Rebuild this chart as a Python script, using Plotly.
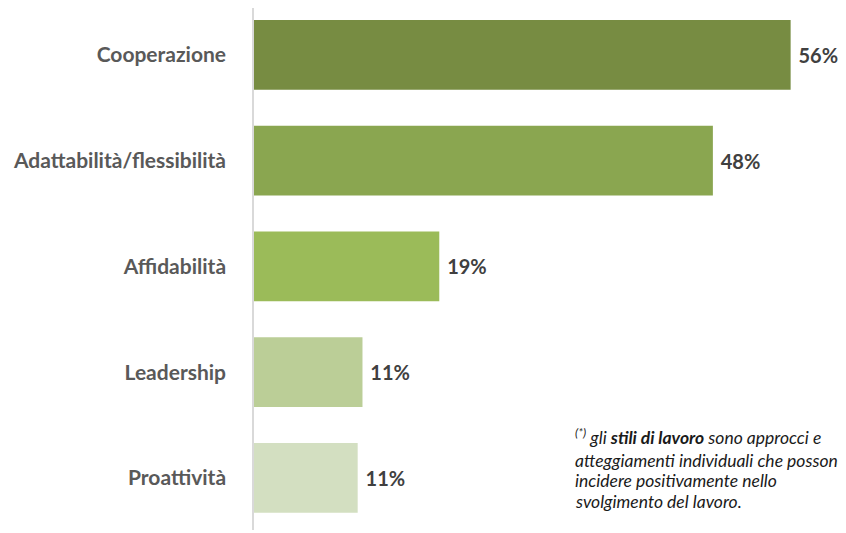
import plotly.graph_objects as go

# --- Data ---
categories = ["Cooperazione", "Adattabilità/flessibilità", "Affidabilità", "Leadership", "Proattività"]
values = [55.9, 47.8, 19.3, 11.3, 10.8]
bar_colors = ["#778C42", "#8AA650", "#9BBB59", "#BBCE97", "#D3DFC1"]
footnote_lines = [
    "<sup>(*)</sup> gli <b>stili di lavoro</b> sono approcci e",
    "atteggiamenti individuali che possono",
    "incidere positivamente nello",
    "svolgimento del lavoro.",
]

FONT = "Lato, 'Open Sans', sans-serif"
# page body adds an 8px offset, so figure coords = screen coords - 8
PLOT_H = 522
PLOT_W = 600

fig = go.Figure()
fig.add_trace(go.Bar(
    y=categories, x=values, orientation="h",
    marker=dict(color=bar_colors, line=dict(width=0)),
    text=values, texttemplate=" %{x:.0f}%", textposition="outside",
    textfont=dict(family=FONT, size=20, color="#404040", weight="bold"),
    cliponaxis=False, hoverinfo="skip",
))

fig.update_layout(
    width=846, height=533,
    margin=dict(l=246, r=0, t=0, b=533 - PLOT_H, autoexpand=False),
    paper_bgcolor="white", plot_bgcolor="white",
    showlegend=False, bargap=0.34,
    font=dict(family=FONT),
)
fig.update_yaxes(
    range=[4.492, -0.444], showgrid=False, zeroline=False, automargin=False,
    showline=True, linecolor="#D9D9D9", linewidth=1.5,
    ticks="", ticklabelstandoff=22,
    tickfont=dict(family=FONT, size=21, color="#595959", weight="bold"),
)
fig.update_xaxes(range=[0, 62.5], visible=False, automargin=False)

# vertical centre of each footnote line (figure px)
line_y = [428, 452, 472.5, 493]
for line, fy in zip(footnote_lines, line_y):
    fig.add_annotation(
        text=line, xref="paper", yref="paper",
        x=(565 - 246) / PLOT_W, y=(PLOT_H - fy) / PLOT_H,
        xanchor="left", yanchor="middle", align="left", showarrow=False,
        font=dict(family=FONT, size=17.5, color="#1a1a1a", style="italic"),
    )

fig.write_html("out.html")
